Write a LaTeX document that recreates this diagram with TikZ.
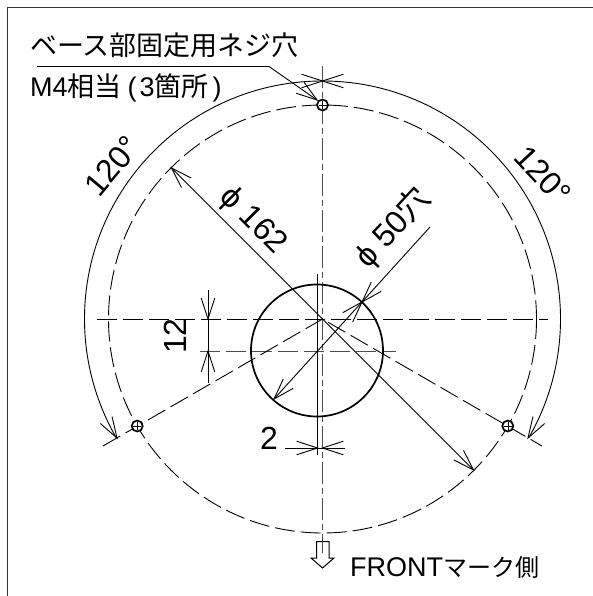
\documentclass[tikz,border=0pt]{standalone}
\usepackage{fontspec}
\setmainfont{Liberation Sans}
\newfontfamily\jpf{Noto Sans CJK JP}
\tikzset{
 x=1pt,y=-1pt,
 thinl/.style={line width=0.9pt,black},
 thickl/.style={line width=1.7pt,black},
 cline/.style={line width=0.9pt,black!70,dash pattern=on 22pt off 4pt on 6pt off 4pt},
 dline/.style={line width=0.9pt,black,dash pattern=on 20pt off 6pt},
 lbl/.style={inner sep=0pt,font=\fontsize{27}{27}\selectfont},
 dimlbl/.style={inner sep=0pt,font=\fontsize{32}{32}\selectfont},
}
\newcommand{\wings}[3]{%
 \draw[thinl] ($(#1,#2)+({22*cos(#3+18)},{22*sin(#3+18)})$) -- (#1,#2) -- ($(#1,#2)+({22*cos(#3-18)},{22*sin(#3-18)})$);
}
\usetikzlibrary{calc}
\begin{document}
\begin{tikzpicture}
\useasboundingbox (0,0) rectangle (593,596);
\fill[white] (0,0) rectangle (593,596);
\coordinate (O) at (322.5,319);
\coordinate (S) at (317,350.5);
% frame
\draw[line width=1pt,black!80] (7.5,596) -- (7.5,8) -- (593,8);
% pitch circle
\draw[dline] (O) circle[radius=214];
% center lines
\draw[cline] (322.5,66) -- (322.5,553);
\draw[dline] (97,319) -- (548,319);
\draw[cline,dash pattern=on 20pt off 6pt] (200,351) -- (396,351);
\draw[dline] (103,446) -- (O) -- (542,446);
\draw[thinl] (317.5,274) -- (317.5,455);
% small hole
\draw[thickl] (S) circle[radius=66];
% holes
\foreach \n/\px/\py in {a/322.5/105,b/137.2/426,c/507.8/426}{
 \node[circle,draw,fill=white,line width=1.7pt,minimum size=11pt,inner sep=0pt] (\n) at (\px,\py) {};
 \draw[line width=0.5pt] (\px-4,\py) -- (\px+4,\py) (\px,\py-4) -- (\px,\py+4);
}
% 120 arcs
\draw[thinl] (322.5,81) arc[start angle=-90,delta angle=-120,radius=238];
\draw[thinl] (322.5,81) arc[start angle=-90,delta angle=120,radius=238];
\wings{322.5}{81}{180}
\wings{322.5}{81}{0}
\wings{117}{438}{239}
\wings{528}{438}{301}
% phi 162
\draw[thinl] (171.5,168) -- (473.5,470);
\wings{171.5}{168}{45}
\wings{473.5}{470}{225}
% phi 50
\draw[thinl] (274,399) -- (362,302) -- (430,227);
\wings{274}{399}{-47}
\wings{362}{302}{133}
\wings{362}{302}{-47}
% 12
\draw[thinl] (208,290) -- (208,383);
\wings{208}{319}{-90}
\wings{208}{351}{90}
% 2
\draw[thinl] (285,448) -- (345,448);
\wings{317.5}{448}{180}
\wings{322.5}{448}{0}
% leader
\draw[thinl] (37,66.5) -- (269,66.5) -- (317,100);
\wings{317}{100}{216}
% front arrow
\draw[thinl,line width=1pt] (316.5,558) -- (316.5,541.7) -- (329,541.7) -- (329,558) -- (334,558) -- (322.5,568) -- (311,558) -- cycle;
% texts
\node[lbl,anchor=west] (t1) at (30,45) {\jpf ベース部固定用ネジ穴};
\node[lbl,anchor=west] (t2) at (30,88) {M4{\jpf 相当}\hspace{6pt}(\hspace{3pt}3{\jpf 箇所}\hspace{4pt})};
\node[lbl,anchor=west] (t3) at (350,567) {FRONT{\fontsize{24}{24}\selectfont\jpf マーク側}};
\node[dimlbl,rotate=50] (t4) at (112,166) {120°};
\node[dimlbl,rotate=-47] (t5) at (543,175) {120°};
\node[dimlbl,rotate=-45] (t6) at (253,221) {ϕ 162};
\node[dimlbl,rotate=47] (t7) at (393,228) {ϕ 50{\jpf 穴}};
\node[dimlbl,rotate=90] (t8) at (175,336) {12};
\node[dimlbl] (t9) at (269,438) {2};
\end{tikzpicture}
\end{document}
